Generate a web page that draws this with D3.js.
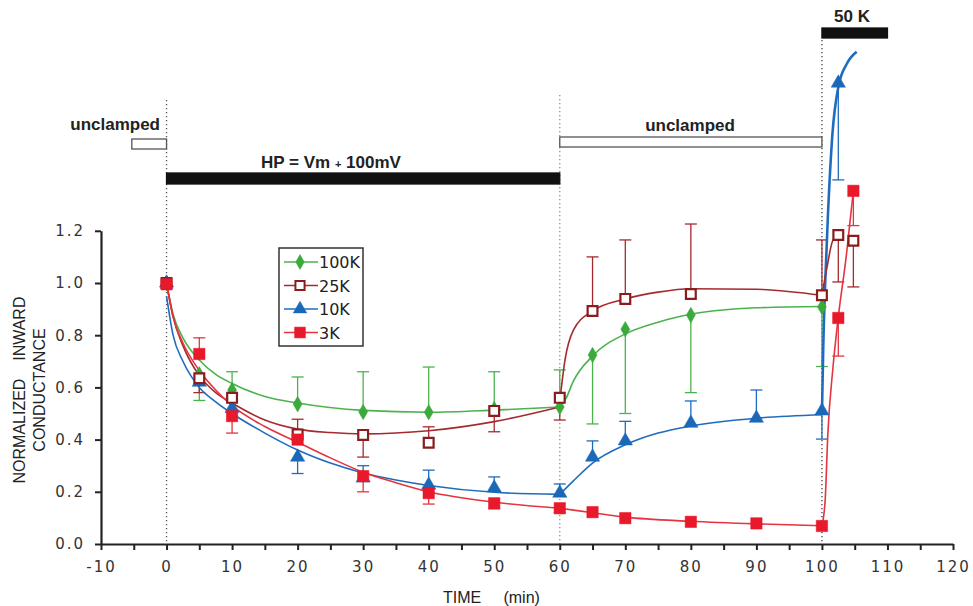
<!DOCTYPE html>
<html>
<head>
<meta charset="utf-8">
<script src="https://cdn.jsdelivr.net/npm/d3@7"></script>
<style>
	body { margin: 0; background: #fff; }
	svg { display: block; }
</style>
</head>
<body>
<div id="chart"></div>
<script>
// ---- data ----
const seriesNames = ['100K', '25K', '10K', '3K'];

// sample times (min)
const t100K = [0, 5, 10, 20, 30, 40, 50, 60, 65, 70, 80, 100];
const t25K = [0, 5, 10, 20, 30, 40, 50, 60, 65, 70, 80, 100, 102.5, 104.8];
const t10K = [0, 5, 10, 20, 30, 40, 50, 60, 65, 70, 80, 90, 100, 102.5];
const t3K = [0, 5, 10, 20, 30, 40, 50, 60, 65, 70, 80, 90, 100, 102.5, 104.8];

// normalized conductance
const g100K = [1.0, 0.65, 0.59, 0.536, 0.506, 0.505, 0.517, 0.525, 0.724, 0.823, 0.877, 0.908];
const g25K = [1.0, 0.635, 0.56, 0.42, 0.418, 0.388, 0.51, 0.56, 0.893, 0.939, 0.958, 0.953, 1.184, 1.162];
const g10K = [1.0, 0.62, 0.52, 0.333, 0.253, 0.226, 0.215, 0.195, 0.333, 0.395, 0.463, 0.482, 0.51, 1.766];
const g3K = [0.995, 0.728, 0.49, 0.4, 0.26, 0.195, 0.156, 0.137, 0.122, 0.099, 0.085, 0.079, 0.069, 0.866, 1.353];

// one-sided error bars: value where the bar ends (null = none drawn)
const e100K = [null, 0.55, 0.66, 0.64, 0.66, 0.678, 0.66, 0.667, 0.46, 0.5, 0.58, 0.68];
const e25K = [null, 0.58, null, 0.478, 0.333, 0.449, 0.43, 0.475, 1.1, 1.165, 1.226, 1.165, 1.004, 0.985];
const e10K = [null, null, null, 0.27, 0.3, 0.283, 0.257, 0.23, 0.395, 0.47, 0.548, 0.59, 0.402, 1.395];
const e3K = [null, 0.79, 0.425, null, 0.2, 0.153, 0.135, 0.122, null, null, null, null, null, 0.72, 1.22];

// fitted curves as [time, value] knots
const fit100K = [
	[[0, 1.0], [1, 0.88], [2.5, 0.79], [5, 0.705], [7.5, 0.65], [10, 0.615], [15, 0.565], [20, 0.54], [30, 0.512], [40, 0.505], [50, 0.513], [60, 0.525]],
	[[60, 0.525], [61, 0.56], [62, 0.62], [65, 0.72], [70, 0.805], [75, 0.85], [80, 0.88], [90, 0.905], [100, 0.91]],
];
const fit25K = [
	[[0, 1.0], [1, 0.87], [2.5, 0.76], [5, 0.645], [7.5, 0.58], [10, 0.54], [15, 0.475], [20, 0.44], [25, 0.427], [30, 0.422], [40, 0.434], [50, 0.469], [60, 0.525]],
	[[60, 0.545], [60.8, 0.705], [62.1, 0.82], [65, 0.893], [70, 0.939], [75, 0.965], [80, 0.978], [90, 0.976], [100, 0.953]],
	[[100, 0.953], [100.7, 1.05], [101.7, 1.165], [102.7, 1.185]],
];
const fit10K = [
	[[0, 0.95], [1, 0.8], [2.5, 0.7], [5, 0.6], [7.5, 0.545], [10, 0.5], [15, 0.425], [20, 0.36], [25, 0.31], [30, 0.272], [35, 0.245], [40, 0.224], [50, 0.198], [60, 0.19]],
	[[60, 0.19], [62, 0.24], [65, 0.31], [70, 0.38], [75, 0.425], [80, 0.452], [90, 0.482], [100, 0.495]],
	[[100, 0.495], [100.2, 0.75], [100.5, 1.0], [100.9, 1.25], [101.6, 1.57], [102.5, 1.75], [103.8, 1.84], [105.3, 1.886]],
];
const fit3K = [
	[[0, 1.0], [1, 0.87], [2.5, 0.77], [5, 0.665], [7.5, 0.59], [10, 0.53], [15, 0.45], [20, 0.39], [25, 0.33], [30, 0.275], [35, 0.235], [40, 0.2], [50, 0.16], [60, 0.137]],
	[[60, 0.137], [65, 0.12], [70, 0.103], [80, 0.087], [90, 0.077], [100, 0.07]],
	[[100, 0.07], [100.5, 0.17], [100.9, 0.42], [101.7, 0.68], [102.5, 0.87], [103.7, 1.1], [104.8, 1.353]],
];

// protocol bars above the plot
const periodLabels = ['unclamped', 'HP = Vm + 100mV', 'unclamped', '50 K'];
const periodStart = [-5.3, 0, 60, 100];
const periodEnd = [0, 60, 100, 110];
const periodFilled = [false, true, false, true];

// dotted markers of protocol changes
const changeTimes = [0, 60, 100];

const xTicks = d3.range(-10, 121, 5);
const yTicks = [0, 0.2, 0.4, 0.6, 0.8, 1.0, 1.2];

// ---- layout ----
const W = 973, H = 606;
const svg = d3.select('#chart').append('svg').attr('width', W).attr('height', H);

const x = d3.scaleLinear().domain([-10, 120]).range([101, 953]);
const y = d3.scaleLinear().domain([0, 1.2]).range([544, 230.8]);

const styles = {
	'100K': { color: '#3aaa3a', line: '#4cb24e', symbol: d3.symbolDiamond, size: 70, open: false },
	'25K': { color: '#8a1c1e', line: '#a52a2e', symbol: d3.symbolSquare, size: 120, open: true },
	'10K': { color: '#1c68b8', line: '#1f6cbf', symbol: d3.symbolTriangle, size: 88, open: false },
	'3K': { color: '#e8192b', line: '#e5343f', symbol: d3.symbolSquare, size: 130, open: false },
};

const table = {
	'100K': { t: t100K, g: g100K, e: e100K, fit: fit100K },
	'25K': { t: t25K, g: g25K, e: e25K, fit: fit25K },
	'10K': { t: t10K, g: g10K, e: e10K, fit: fit10K },
	'3K': { t: t3K, g: g3K, e: e3K, fit: fit3K },
};

// dotted vertical lines
const dotTop = { 0: 100, 60: 95, 100: 40 };
const dotColor = { 0: '#555', 60: '#4fb84f', 100: '#444' };
svg.selectAll('line.change')
	.data(changeTimes)
	.enter()
	.append('line')
	.attr('class', 'change')
	.attr('x1', (d) => x(d))
	.attr('x2', (d) => x(d))
	.attr('y1', (d) => dotTop[d])
	.attr('y2', y(0))
	.attr('stroke', (d) => dotColor[d])
	.attr('stroke-width', 1.3)
	.attr('stroke-dasharray', '1.3,2.7');

// protocol bars
const barY = [139, 173, 137, 28];
const barH = [10, 11, 10, 10];
const labelPos = [[160, 130, 'end'], [331, 168, 'middle'], [690, 131, 'middle'], [852, 22, 'middle']];
periodLabels.forEach((lab, i) => {
	svg.append('rect')
		.attr('x', x(periodStart[i]))
		.attr('y', barY[i])
		.attr('width', x(periodEnd[i]) - x(periodStart[i]))
		.attr('height', barH[i])
		.attr('fill', periodFilled[i] ? '#111' : '#fff')
		.attr('stroke', periodFilled[i] ? '#111' : '#555')
		.attr('stroke-width', 1.3);

	const txt = svg.append('text')
		.attr('x', labelPos[i][0])
		.attr('y', labelPos[i][1])
		.attr('text-anchor', labelPos[i][2])
		.style('font-family', '"Liberation Sans", Arial, sans-serif')
		.style('font-weight', 'bold')
		.style('font-size', '17px')
		.attr('fill', '#222');
	if (lab.includes('+')) {
		const parts = lab.split('+');
		txt.append('tspan').text(parts[0]);
		txt.append('tspan').style('font-size', '11px').text('+');
		txt.append('tspan').text(parts[1]);
	} else {
		txt.text(lab);
	}
});

// axes
const xAxis = svg.append('g')
	.attr('transform', `translate(0,${y(0)})`)
	.call(d3.axisBottom(x)
		.tickValues(xTicks)
		.tickSize(6)
		.tickSizeOuter(0)
		.tickFormat((d) => (d % 10 === 0 ? d : '')));
const yAxis = svg.append('g')
	.attr('transform', `translate(${x(-10)},0)`)
	.call(d3.axisLeft(y)
		.tickValues(yTicks)
		.tickSize(6)
		.tickSizeOuter(0)
		.tickFormat(d3.format('.1f')));

[xAxis, yAxis].forEach((ax) => {
	ax.select('.domain').attr('stroke', '#222').attr('stroke-width', 2.2);
	ax.selectAll('.tick line').attr('stroke', '#222').attr('stroke-width', 2);
	ax.selectAll('.tick text')
		.attr('fill', '#333')
		.style('font-family', '"DejaVu Sans", Verdana, sans-serif')
		.style('font-size', '15px')
		.style('letter-spacing', '2px');
});
xAxis.selectAll('.tick text').attr('dy', '1.25em');
yAxis.selectAll('.tick text').attr('x', -16);

// axis titles
svg.append('text')
	.attr('x', 443)
	.attr('y', 603)
	.attr('fill', '#222')
	.style('font-family', '"Liberation Sans Narrow", "Liberation Sans", Arial, sans-serif')
	.style('font-size', '16px')
	.attr('xml:space', 'preserve')
	.text('TIME     (min)');

const yTitle = svg.append('text')
	.attr('transform', 'translate(0,390) rotate(-90)')
	.attr('text-anchor', 'middle')
	.attr('fill', '#222')
	.style('font-family', '"Liberation Sans Narrow", "Liberation Sans", Arial, sans-serif')
	.style('font-size', '16px')
	.attr('xml:space', 'preserve');
yTitle.append('tspan').attr('x', 0).attr('y', 25).text('NORMALIZED    INWARD');
yTitle.append('tspan').attr('x', 0).attr('y', 45).text('CONDUCTANCE');

// ---- series ----
const line = d3.line()
	.x((d) => x(d[0]))
	.y((d) => y(d[1]))
	.curve(d3.curveMonotoneX);

const drawOrder = ['100K', '10K', '25K', '3K'];

// error bars
drawOrder.forEach((name) => {
	const s = table[name];
	const st = styles[name];
	const pts = s.t.map((t, i) => ({ t, g: s.g[i], e: s.e[i] })).filter((d) => d.e !== null);
	const g = svg.append('g');
	g.selectAll('line.bar')
		.data(pts)
		.enter()
		.append('line')
		.attr('x1', (d) => x(d.t))
		.attr('x2', (d) => x(d.t))
		.attr('y1', (d) => y(d.g))
		.attr('y2', (d) => y(d.e))
		.attr('stroke', st.line)
		.attr('stroke-width', 1.3);
	g.selectAll('line.cap')
		.data(pts)
		.enter()
		.append('line')
		.attr('x1', (d) => x(d.t) - 6)
		.attr('x2', (d) => x(d.t) + 6)
		.attr('y1', (d) => y(d.e))
		.attr('y2', (d) => y(d.e))
		.attr('stroke', st.line)
		.attr('stroke-width', 1.3);
});

// fitted curves
drawOrder.forEach((name) => {
	const st = styles[name];
	svg.append('g')
		.selectAll('path')
		.data(table[name].fit)
		.enter()
		.append('path')
		.attr('d', line)
		.attr('fill', 'none')
		.attr('stroke', st.line)
		.attr('stroke-width', (d, i) => (name === '10K' && i === 2 ? 2.6 : 1.6));
});

// markers
drawOrder.forEach((name) => {
	const s = table[name];
	const st = styles[name];
	svg.append('g')
		.selectAll('path')
		.data(s.t.map((t, i) => [t, s.g[i]]))
		.enter()
		.append('path')
		.attr('transform', (d) => `translate(${x(d[0])},${y(d[1])})`)
		.attr('d', d3.symbol().type(st.symbol).size(st.open ? st.size * 0.8 : st.size))
		.attr('fill', st.open ? '#fff' : st.color)
		.attr('stroke', st.color)
		.attr('stroke-width', st.open ? 2.2 : 0.5);
});

// legend
const legend = svg.append('g');
legend.append('rect')
	.attr('x', 279)
	.attr('y', 248)
	.attr('width', 84)
	.attr('height', 98)
	.attr('fill', '#fff')
	.attr('stroke', '#333')
	.attr('stroke-width', 1.5);
seriesNames.forEach((name, i) => {
	const st = styles[name];
	const ly = 262 + i * 23.5;
	legend.append('line')
		.attr('x1', 284)
		.attr('x2', 318)
		.attr('y1', ly)
		.attr('y2', ly)
		.attr('stroke', st.line)
		.attr('stroke-width', 1.4);
	legend.append('path')
		.attr('transform', `translate(300,${ly})`)
		.attr('d', d3.symbol().type(st.symbol).size(st.open ? st.size * 0.7 : st.size * 0.9))
		.attr('fill', st.open ? '#fff' : st.color)
		.attr('stroke', st.color)
		.attr('stroke-width', st.open ? 2 : 0.5);
	legend.append('text')
		.attr('x', 319)
		.attr('y', ly + 6)
		.attr('fill', '#222')
		.style('font-family', '"DejaVu Sans", Verdana, sans-serif')
		.style('font-size', '16px')
		.text(name);
});
</script>
</body>
</html>
